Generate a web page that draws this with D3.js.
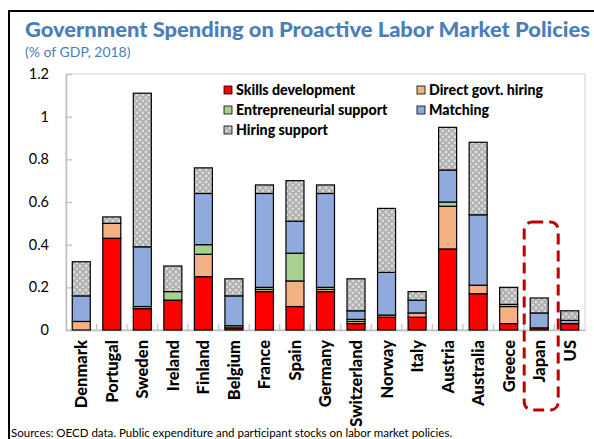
<!DOCTYPE html>
<html><head><meta charset="utf-8">
<script src="https://cdn.jsdelivr.net/npm/d3@7"></script>
<style>body{margin:0;background:#fff}svg{display:block}</style>
</head><body>
<svg id="c" width="594" height="439"></svg>
<script>
const countries=["Denmark","Portugal","Sweden","Ireland","Finland","Belgium","France","Spain","Germany","Switzerland","Norway","Italy","Austria","Australia","Greece","Japan","US"];
const seriesNames=["Skills development","Direct govt. hiring","Entrepreneurial support","Matching","Hiring support"];
const skills=[0,0.43,0.10,0.14,0.25,0.01,0.18,0.11,0.18,0.03,0.06,0.06,0.38,0.17,0.03,0.01,0.03];
const directHiring=[0.04,0.07,0,0,0.105,0,0.01,0.12,0.01,0.01,0.01,0.02,0.20,0.04,0.08,0,0];
const entrepreneurial=[0,0,0.01,0.04,0.045,0.01,0.01,0.13,0.01,0.01,0,0,0.02,0,0.01,0,0];
const matching=[0.12,0,0.28,0,0.24,0.14,0.44,0.15,0.44,0.04,0.20,0.06,0.15,0.33,0,0.07,0.015];
const hiringSupport=[0.16,0.03,0.72,0.12,0.12,0.08,0.04,0.19,0.04,0.15,0.30,0.04,0.20,0.34,0.08,0.07,0.045];
const yTicks=[0,0.2,0.4,0.6,0.8,1,1.2];
const highlighted="Japan";

const seriesArrays=[skills,directHiring,entrepreneurial,matching,hiringSupport];
const fills=["#FF0000","#F4B183","#A9D18E","#8FAADC","url(#hatch)"];
const blue="#4A7EBB";
const font="Lato, 'Open Sans', sans-serif";

const rows=countries.map((c,i)=>{const r={country:c};seriesNames.forEach((s,j)=>r[s]=seriesArrays[j][i]);return r;});
const stacked=d3.stack().keys(seriesNames)(rows);

const svg=d3.select("#c").style("font-family",font);
const defs=svg.append("defs");
const pat=defs.append("pattern").attr("id","hatch").attr("patternUnits","userSpaceOnUse").attr("width",6).attr("height",6);
pat.append("rect").attr("width",6).attr("height",6).attr("fill","#B0B0B0");
pat.append("path").attr("d","M1.5 0.5h1v1h1v1h-1v1h-1v-1h-1v-1h1z M4.5 3.5h1v1h1v1h-1v1h-1v-1h-1v-1h1z").attr("fill","#EBEBEB");

const L=66,R=585,T=74,B=330;
const x=d3.scaleBand().domain(countries).range([L,R]).paddingInner(0.41).paddingOuter(0.205);
const y=d3.scaleLinear().domain([0,1.2]).range([B,T]);

// outer frame
svg.append("rect").attr("x",9).attr("y",11).attr("width",620).attr("height",460).attr("fill","none").attr("stroke","#000").attr("stroke-width",2);

// title
svg.append("text").attr("x",25).attr("y",37).attr("fill",blue).attr("font-weight",900).attr("font-size",21.5)
  .attr("textLength",565).attr("lengthAdjust","spacingAndGlyphs").text("Government Spending on Proactive Labor Market Policies");
svg.append("text").attr("x",25).attr("y",57).attr("fill",blue).attr("font-size",14).text("(% of GDP, 2018)");

// plot frame
svg.append("rect").attr("x",L).attr("y",T).attr("width",R-L).attr("height",B-T).attr("fill","none").attr("stroke","#D9D9D9").attr("stroke-width",1.2);

// y axis
const ya=svg.append("g").attr("transform",`translate(${L},0)`).call(d3.axisLeft(y).tickValues(yTicks).tickFormat(d3.format("")).tickSizeInner(-6).tickSizeOuter(0).tickPadding(17));
ya.select(".domain").attr("stroke","#BFBFBF").attr("stroke-width",1.5);
ya.selectAll(".tick line").attr("stroke","#BFBFBF").attr("stroke-width",1.2);
ya.selectAll("text").attr("font-size",14.5).attr("fill","#000").style("font-family",font);

// x axis
const xa=svg.append("g").attr("transform",`translate(0,${B})`).call(d3.axisBottom(x).tickSize(0).tickSizeOuter(0));
xa.select(".domain").attr("stroke","#BFBFBF").attr("stroke-width",1.5);
xa.selectAll("text").attr("transform","rotate(-90)").attr("x",-10).attr("y",0).attr("dy","0.36em").attr("text-anchor","end")
  .attr("font-size",16.5).attr("font-weight",900).attr("fill","#000").style("font-family",font);
// boundary ticks between categories
const gap=x.step()*x.paddingInner();
svg.append("g").selectAll("line").data(countries.slice(1)).join("line")
  .attr("x1",d=>x(d)-gap/2).attr("x2",d=>x(d)-gap/2).attr("y1",B).attr("y2",B-6)
  .attr("stroke","#BFBFBF").attr("stroke-width",1.2);

// bars
const g=svg.append("g");
stacked.forEach((s,j)=>{
  g.append("g").selectAll("rect").data(s.filter(d=>d[1]-d[0]>0)).join("rect")
   .attr("x",d=>x(d.data.country)).attr("width",x.bandwidth())
   .attr("y",d=>y(d[1])).attr("height",d=>y(d[0])-y(d[1]))
   .attr("fill",fills[j]).attr("stroke","#000").attr("stroke-width",1.2);
});

// legend
const legPos=[[224,90],[417,90],[224,110],[417,110],[224,130]];
const lg=svg.append("g");
seriesNames.forEach((s,j)=>{
  const [lx,ly]=legPos[j];
  lg.append("rect").attr("x",lx).attr("y",ly-4).attr("width",8).attr("height",8).attr("fill",fills[j]).attr("stroke","#000").attr("stroke-width",0.8);
  lg.append("text").attr("x",lx+12).attr("y",ly).attr("dy","0.36em").attr("font-size",14.2).attr("font-weight",900).attr("fill","#000").text(s);
});

// highlight box around Japan
svg.append("rect").attr("x",x(highlighted)-6).attr("y",222).attr("width",x.bandwidth()+16).attr("height",188)
  .attr("rx",8).attr("fill","none").attr("stroke","#C00000").attr("stroke-width",3).attr("stroke-dasharray","11,6");

// source
svg.append("text").attr("x",11).attr("y",437).attr("font-size",11.5).attr("fill","#000").text("Sources: OECD data. Public expenditure and participant stocks on labor market policies.");
</script>
</body></html>
